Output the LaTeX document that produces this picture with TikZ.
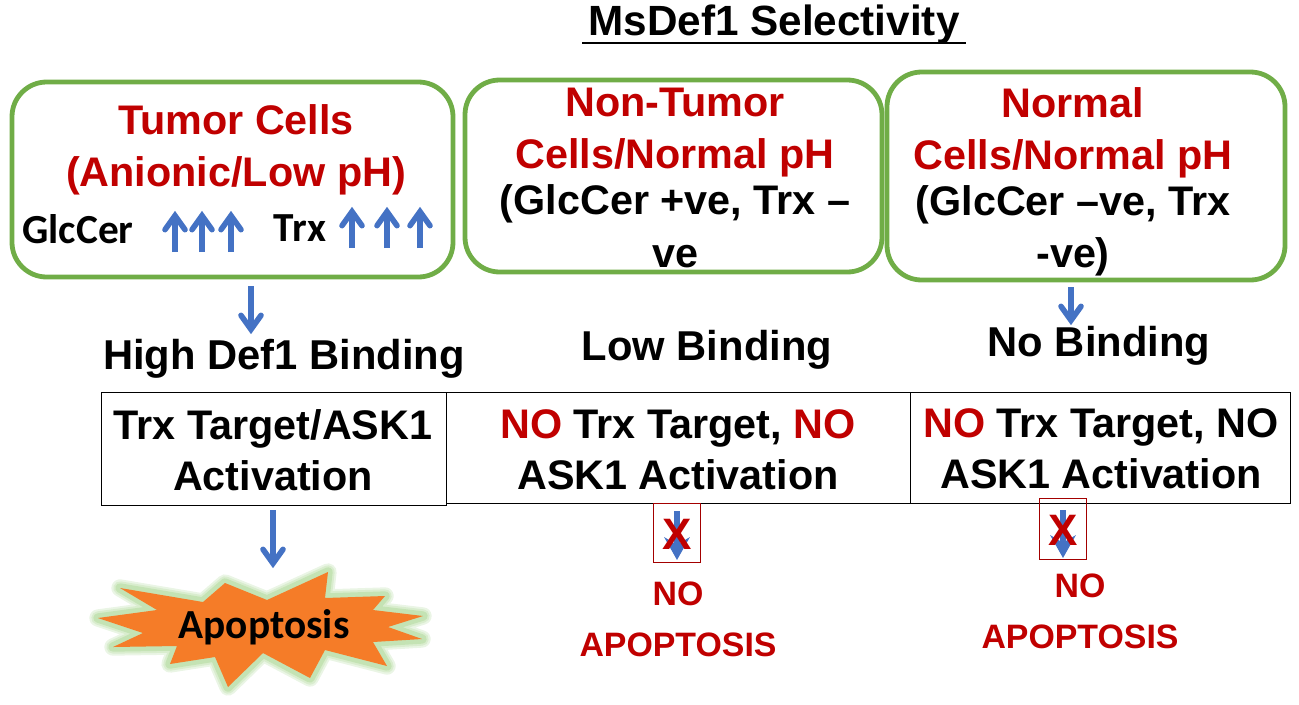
\documentclass[tikz,border=0pt]{standalone}
\usepackage{fontspec}
\setmainfont{Liberation Sans}
\newfontfamily\calfont{Carlito}
\usetikzlibrary{arrows.meta}
\definecolor{boxgreen}{HTML}{70AD47}
\definecolor{arrowblue}{HTML}{4472C4}
\definecolor{textred}{HTML}{C00000}
\definecolor{starorange}{HTML}{F57C28}
\definecolor{glowgreen}{HTML}{C4E3B4}
\pgfdeclarearrow{
  name=BlueBarb,
  setup code={\pgfarrowssettipend{0pt}\pgfarrowssetlineend{-4pt}\pgfarrowssetvisualbackend{-5pt}\pgfarrowssetbackend{-16pt}\pgfarrowshullpoint{-16pt}{9.5pt}\pgfarrowshullpoint{-16pt}{-9.5pt}\pgfarrowshullpoint{0pt}{0pt}},
  drawing code={\pgfsetlinewidth{4.2pt}\pgfsetroundcap\pgfsetmiterjoin
    \pgfpathmoveto{\pgfqpoint{-14pt}{7.5pt}}\pgfpathlineto{\pgfqpoint{-3.5pt}{0pt}}\pgfpathlineto{\pgfqpoint{-14pt}{-7.5pt}}\pgfusepathqstroke}
}
\begin{document}
\begin{tikzpicture}[x=0.75pt,y=-0.75pt]
\tikzset{cellbox/.style={draw=boxgreen,line width=3.6pt,rounded corners=26pt}}
\tikzset{redtext/.style={text=textred,align=center,font=\fontsize{31}{39}\bfseries}}
\tikzset{blacktext/.style={align=center,font=\fontsize{31}{39}\bfseries}}
\tikzset{bindtext/.style={font=\fontsize{31.3}{38}\bfseries}}
\tikzset{noapotext/.style={text=textred,align=center,font=\fontsize{25.4}{38}\bfseries}}
\tikzset{calitext/.style={font=\calfont\fontsize{31}{36}\bfseries}}
\tikzset{blockbox/.style={draw=textred!85!black,line width=0.75pt}}
\tikzset{targetbox/.style={draw=black,line width=0.75pt}}
\tikzset{bluearrow/.style={draw=arrowblue,line width=4pt,-{BlueBarb}}}
\tikzset{blockarrow/.style={draw=arrowblue,line width=4pt,-{Stealth[length=17pt,width=19pt]}}}
\useasboundingbox (0,0) rectangle (1299,704);
% title
\node (title) at (774,25) {\fontsize{31.7}{36}\bfseries MsDef1 Selectivity};
\draw[line width=2.2pt] (582,43) coordinate (ulstart) -- (966,43) coordinate (ulend);
% cell boxes
\draw[cellbox] (12,82) rectangle (453,277);
\draw[cellbox] (465,80) rectangle (882,272);
\draw[cellbox] (887,72) rectangle (1285,280);
\node[redtext] (tumor) at (236,150) {Tumor Cells\\(Anionic/Low pH)};
\node[redtext] (nontumor) at (675,133) {Non-Tumor\\Cells/Normal pH};
\node[blacktext] (nontumorc) at (675,226) {(GlcCer +ve, Trx --\\[1pt]ve};
\node[redtext] (normal) at (1073,133) {Normal\\Cells/Normal pH};
\node[blacktext] (normalc) at (1073,231) {(GlcCer --ve, Trx\\-ve)};
\node[calitext] (glccer) at (78,229) {GlcCer};
\node[calitext] (trx) at (300,228) {Trx};
% up arrows
\foreach \x/\ytop in {175/211,202/211,231/211,352/207,387/207,420/207}
  \draw[bluearrow] (\x,\ytop+41) coordinate (up\x a) -- (\x,\ytop) coordinate (up\x b);
% binding
\node[bindtext] (highbind) at (284,359) {High Def1 Binding};
\node[bindtext] (lowbind) at (707,350) {Low Binding};
\node[bindtext] (nobind) at (1099,346) {No Binding};
\coordinate (higharrow) at (251,286);
\coordinate (noarrow) at (1071,287);
\draw[bluearrow] (higharrow) -- (251,334) coordinate (higharrowend);
\draw[bluearrow] (noarrow) -- (1071,325) coordinate (noarrowend);
% target boxes
\draw[targetbox] (101,392) rectangle (446,505);
\draw[targetbox] (446,392) rectangle (910,503);
\draw[targetbox] (910,392) rectangle (1290,503);
\node[blacktext,font=\fontsize{31}{38}\bfseries] (target) at (273,450) {Trx Target/ASK1\\Activation};
\node[blacktext,font=\fontsize{31}{38}\bfseries] (notarget) at (678,450) {\textcolor{textred}{NO} Trx Target, \textcolor{textred}{NO}\\ASK1 Activation};
\node[blacktext,font=\fontsize{31}{38}\bfseries] (notargetb) at (1101,449) {\textcolor{textred}{NO} Trx Target, NO\\ASK1 Activation};
% apoptosis star
\def\starshape{(120,588) -- (203,602) -- (225,583) -- (267,600) -- (328,572) -- (325,598) -- (385,596) -- (373,610) -- (423,616) -- (388,627) -- (422,639) -- (373,642) -- (387,666) -- (325,650) -- (310,678) -- (263,653) -- (228,687) -- (215,657) -- (170,664) -- (177,646) -- (113,647) -- (143,633) -- (98,618) -- (157,610) -- cycle}
\foreach \w/\c in {13pt/glowgreen!35,10pt/glowgreen!65,7pt/glowgreen}
  \draw[line join=round,draw=\c,line width=\w,fill=\c] \starshape;
\fill[starorange] \starshape;
\node[calitext] (apoptosis) at (264,627) {Apoptosis};
\draw[bluearrow] (273,510) coordinate (apoarrow) -- (273,568) coordinate (apoarrowend);
% no apoptosis
\draw[blockarrow] (677,511) coordinate (blocka) -- (677,560) coordinate (blockaend);
\draw[blockarrow] (1063,510) coordinate (blockb) -- (1063,558) coordinate (blockbend);
\draw[blockbox] (653,503) rectangle (700,562);
\draw[blockbox] (1039,498) rectangle (1086,559);
\node[text=textred] (xa) at (677,534) {\fontsize{33}{33}\bfseries X};
\node[text=textred] (xb) at (1063,530) {\fontsize{33}{33}\bfseries X};
\node[noapotext] (noapoa) at (678,619) {NO\\APOPTOSIS};
\node[noapotext] (noapob) at (1080,611) {NO\\APOPTOSIS};
\end{tikzpicture}
\end{document}
